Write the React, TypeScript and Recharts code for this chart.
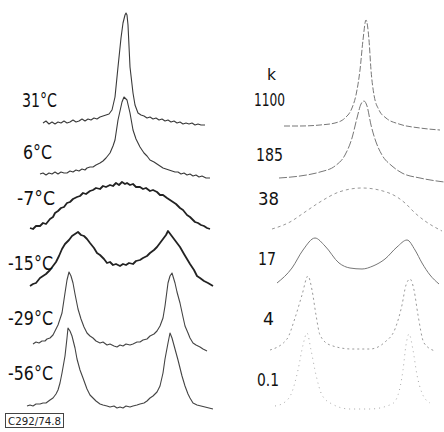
import React from 'react';
import { LineChart, Line, XAxis, YAxis } from 'recharts';

// ---- Data (field offset, signal intensity) ----
const tempLabels = ['31°C', '6°C', '-7°C', '-15°C', '-29°C', '-56°C'];
const kLabels = ['1100', '185', '38', '17', '4', '0.1'];
const kHeader = 'k';
const sampleCode = 'C292/74.8';

// vertical stacking offsets of each spectrum
const expOffsets = [309, 258, 203, 146, 88, 26];
const simOffsets = [306, 254, 203, 148, 82, 26];

// experimental spectra
const exp31: number[][] = [
  [-77, 0], [-74, 2], [-71, -1], [-68, 1], [-65, -1], [-62, 1], [-59, 0], [-56, 2], [-53, 0], [-50, 1],
  [-47, 3], [-44, 1], [-41, 2], [-38, 4], [-35, 2], [-32, 4], [-29, 3], [-26, 5], [-23, 4], [-20, 6],
  [-17, 7], [-14, 8], [-11, 9], [-8, 13], [-5, 26], [-2, 56], [1, 85], [3, 100], [5, 108], [6, 110],
  [7, 108], [8, 98], [10, 56], [13, 30], [15, 18], [18, 10], [21, 8], [24, 7], [27, 5], [30, 6],
  [33, 4], [36, 5], [39, 3], [42, 4], [45, 2], [48, 3], [51, 1], [54, 2], [57, 0], [60, 1],
  [63, -1], [66, 0], [69, -1], [72, 0], [75, -2], [78, -1], [81, -2], [85, -2],
];
const exp6: number[][] = [
  [-80, 0], [-77, 1], [-74, -1], [-71, 1], [-68, 0], [-65, 2], [-62, 0], [-59, 2], [-56, 1], [-53, 1],
  [-50, 3], [-47, 2], [-44, 4], [-41, 3], [-38, 5], [-35, 4], [-33, 6], [-30, 7], [-27, 7], [-24, 9],
  [-20, 11], [-17, 13], [-14, 16], [-10, 21], [-7, 28], [-5, 34], [-2, 54], [2, 72], [4, 77], [7, 74],
  [10, 61], [13, 44], [16, 35], [20, 27], [24, 21], [27, 18], [30, 14], [34, 12], [37, 10], [40, 8],
  [43, 6], [46, 5], [49, 4], [52, 3], [55, 2], [58, 2], [61, 0], [64, 1], [67, -1], [70, 0],
  [73, -2], [76, -1], [79, -3], [82, -2], [86, -4], [90, -4],
];
const exp7: number[][] = [
  [-90, 1], [-87, 0], [-84, 3], [-80, 3], [-77, 6], [-74, 5], [-70, 10], [-67, 12], [-65, 16], [-62, 18],
  [-59, 21], [-56, 22], [-53, 26], [-50, 27], [-47, 30], [-43, 32], [-40, 33], [-37, 36], [-34, 35], [-30, 38],
  [-27, 39], [-24, 41], [-20, 40], [-17, 43], [-14, 42], [-10, 44], [-7, 43], [-4, 46], [-1, 44], [2, 47],
  [5, 45], [7, 46], [10, 44], [13, 45], [16, 42], [20, 42], [23, 40], [26, 41], [30, 38], [33, 39],
  [37, 37], [40, 34], [43, 34], [47, 31], [50, 29], [53, 27], [56, 25], [60, 21], [63, 19], [67, 14],
  [70, 12], [73, 9], [75, 7], [78, 6], [81, 4], [84, 3], [87, 1], [90, 0],
];
const exp15: number[][] = [
  [-90, 0], [-87, 2], [-84, 3], [-80, 8], [-77, 10], [-74, 12], [-70, 16], [-67, 20], [-64, 24], [-61, 30],
  [-58, 37], [-55, 42], [-51, 46], [-48, 50], [-45, 52], [-42, 54], [-39, 51], [-36, 50], [-33, 47], [-30, 43],
  [-26, 38], [-23, 33], [-20, 31], [-16, 27], [-13, 23], [-10, 24], [-7, 21], [-4, 22], [0, 20], [3, 22],
  [6, 21], [9, 23], [13, 22], [16, 25], [20, 26], [23, 28], [27, 30], [30, 33], [34, 36], [37, 39],
  [40, 43], [43, 47], [46, 51], [48, 55], [51, 51], [54, 47], [57, 43], [60, 39], [64, 32], [67, 27],
  [70, 22], [74, 16], [77, 10], [80, 8], [84, 5], [88, 3], [93, 0],
];
const exp29: number[][] = [
  [-87, 0], [-84, 2], [-81, 1], [-78, 3], [-75, 3], [-73, 5], [-70, 6], [-67, 9], [-65, 13], [-62, 19],
  [-60, 25], [-58, 31], [-55, 51], [-53, 64], [-51, 72], [-49, 68], [-47, 61], [-45, 50], [-42, 35], [-39, 25],
  [-36, 17], [-33, 11], [-30, 8], [-27, 6], [-24, 3], [-20, 1], [-17, 2], [-13, -1], [-10, 0], [-6, -2],
  [-3, -3], [0, -1], [3, -2], [6, 0], [10, -1], [13, 0], [17, 2], [20, 2], [23, 4], [27, 5],
  [30, 8], [34, 10], [37, 13], [40, 18], [43, 26], [45, 38], [48, 61], [50, 68], [52, 71], [55, 61],
  [57, 52], [60, 41], [63, 27], [65, 18], [68, 11], [70, 6], [73, 1], [76, -1], [80, -3], [83, -5], [87, -7],
];
const exp56: number[][] = [
  [-93, 0], [-90, 1], [-87, 0], [-84, 2], [-80, 2], [-77, 3], [-74, 3], [-70, 6], [-67, 8], [-64, 12],
  [-62, 16], [-60, 23], [-58, 33], [-55, 50], [-53, 68], [-52, 78], [-50, 75], [-48, 70], [-45, 58], [-43, 47],
  [-40, 36], [-37, 28], [-33, 17], [-30, 11], [-27, 8], [-24, 5], [-20, 2], [-17, 1], [-13, 0], [-10, -1],
  [-6, 0], [-3, -2], [0, -1], [3, -2], [6, 0], [10, -1], [13, 0], [17, 1], [20, 2], [24, 3],
  [27, 5], [30, 8], [33, 10], [37, 14], [40, 20], [43, 33], [45, 47], [48, 63], [50, 73], [52, 68],
  [55, 57], [58, 46], [62, 30], [65, 20], [68, 12], [70, 8], [73, 3], [77, 1], [81, 0], [85, -1],
  [89, -2], [93, -3],
];

// simulated spectra
const sim1100: number[][] = [
  [-75, 0], [-59, 0], [-39, 1], [-24, 3], [-14, 8], [-7, 18], [-3, 31], [1, 56], [4, 86], [7, 106],
  [10, 86], [12, 56], [15, 31], [20, 16], [27, 8], [40, 2], [61, -2], [81, -4],
];
const sim185: number[][] = [
  [-80, 0], [-59, 2], [-39, 6], [-24, 12], [-14, 23], [-7, 40], [-2, 60], [2, 74], [5, 77], [8, 72],
  [12, 53], [17, 36], [23, 23], [33, 12], [43, 5], [61, 0], [85, -4],
];
const sim38: number[][] = [
  [-87, 0], [-69, 7], [-54, 17], [-39, 27], [-20, 37], [3, 41], [30, 36], [46, 26], [56, 16], [66, 8], [83, -2],
];
const sim17: number[][] = [
  [-82, 1], [-67, 16], [-56, 34], [-44, 46], [-34, 38], [-20, 21], [-9, 16], [3, 15], [14, 18], [26, 25],
  [38, 37], [48, 44], [56, 34], [63, 21], [71, 9], [80, 0],
];
const sim4: number[][] = [
  [-89, 0], [-72, 11], [-64, 32], [-57, 55], [-51, 74], [-47, 60], [-43, 35], [-39, 15], [-29, 5], [-7, 1],
  [11, 1], [26, 8], [36, 21], [43, 45], [47, 65], [51, 71], [55, 60], [59, 35], [65, 7], [76, -1],
];
const sim01: number[][] = [
  [-84, 0], [-74, 4], [-67, 14], [-61, 36], [-56, 61], [-52, 73], [-48, 56], [-43, 31], [-37, 11], [-27, 2],
  [-9, -3], [11, -3], [33, 2], [39, 11], [44, 36], [47, 61], [50, 72], [54, 56], [58, 31], [63, 13], [71, 3],
];

const expSpectra = [exp31, exp6, exp7, exp15, exp29, exp56];
const simSpectra = [sim1100, sim185, sim38, sim17, sim4, sim01];

// ---- Styling / layout ----
const W = 444;
const H = 432;
const PANEL_W = 222;

const toSeries = (pts: number[][], offset: number) =>
  pts.map(([f, i]) => ({ f, v: offset + i }));

const expStyles = [
  { stroke: '#3a3a3a', width: 1.1, dash: undefined },
  { stroke: '#3a3a3a', width: 1.1, dash: undefined },
  { stroke: '#222', width: 1.8, dash: undefined },
  { stroke: '#222', width: 1.8, dash: undefined },
  { stroke: '#444', width: 1.1, dash: undefined },
  { stroke: '#444', width: 1.1, dash: undefined },
];
const simStyles = [
  { stroke: '#777', width: 1, dash: '6 2' },
  { stroke: '#777', width: 1, dash: '8 2' },
  { stroke: '#999', width: 1, dash: '3 3' },
  { stroke: '#777', width: 1, dash: undefined },
  { stroke: '#999', width: 1, dash: '2 3' },
  { stroke: '#aaa', width: 1, dash: '1 4' },
];

const tempPos = [
  { x: 22, y: 107, w: 35 },
  { x: 23, y: 159, w: 29 },
  { x: 17, y: 205, w: 38 },
  { x: 8, y: 270, w: 45 },
  { x: 8, y: 325, w: 45 },
  { x: 8, y: 380, w: 45 },
];
const kPos = [
  { x: 254, y: 106, w: 31 },
  { x: 256, y: 161, w: 27 },
  { x: 258, y: 205, w: 21 },
  { x: 258, y: 265, w: 18 },
  { x: 263, y: 325, w: 11 },
  { x: 257, y: 386, w: 22 },
];

const FONT = '"DejaVu Sans", "Liberation Sans", sans-serif';

function Panel({
  spectra,
  offsets,
  styles,
  domain,
  left,
  curve,
}: {
  spectra: number[][][];
  offsets: number[];
  styles: { stroke: string; width: number; dash?: string }[];
  domain: [number, number];
  left: number;
  curve: 'linear' | 'monotone';
}) {
  return (
    <div style={{ position: 'absolute', left, top: 0 }}>
      <LineChart width={PANEL_W} height={H} margin={{ top: 0, right: 0, bottom: 0, left: 0 }}>
        <XAxis type="number" dataKey="f" domain={domain} hide allowDataOverflow />
        <YAxis type="number" domain={[0, H]} hide allowDataOverflow />
        {spectra.map((pts, idx) => (
          <Line
            key={idx}
            data={toSeries(pts, offsets[idx])}
            dataKey="v"
            type={curve}
            stroke={styles[idx].stroke}
            strokeWidth={styles[idx].width}
            strokeDasharray={styles[idx].dash}
            strokeLinejoin="round"
            dot={false}
            activeDot={false}
            isAnimationActive={false}
          />
        ))}
      </LineChart>
    </div>
  );
}

export default function App() {
  return (
    <div
      style={{
        position: 'absolute',
        left: 0,
        top: 0,
        width: W,
        height: H,
        background: '#fff',
        overflow: 'hidden',
      }}
    >
      <Panel
        spectra={expSpectra}
        offsets={expOffsets}
        styles={expStyles}
        domain={[-120, 102]}
        left={0}
        curve="linear"
      />
      <Panel
        spectra={simSpectra}
        offsets={simOffsets}
        styles={simStyles}
        domain={[-137, 85]}
        left={PANEL_W}
        curve="monotone"
      />
      <svg
        width={W}
        height={H}
        style={{ position: 'absolute', left: 0, top: 0, pointerEvents: 'none' }}
      >
        {tempLabels.map((t, i) => (
          <text
            key={t}
            x={tempPos[i].x}
            y={tempPos[i].y}
            fontSize={19}
            fontFamily={FONT}
            fill="#111"
            textLength={tempPos[i].w}
            lengthAdjust="spacingAndGlyphs"
          >
            {t}
          </text>
        ))}
        <text
          x={267}
          y={80}
          fontSize={16}
          fontFamily={FONT}
          fill="#111"
          textLength={9}
          lengthAdjust="spacingAndGlyphs"
        >
          {kHeader}
        </text>
        {kLabels.map((t, i) => (
          <text
            key={t}
            x={kPos[i].x}
            y={kPos[i].y}
            fontSize={18}
            fontFamily={FONT}
            fill="#111"
            textLength={kPos[i].w}
            lengthAdjust="spacingAndGlyphs"
          >
            {t}
          </text>
        ))}
        <rect x={5.5} y={413.5} width={58} height={14} fill="none" stroke="#444" strokeWidth={1} />
        <text
          x={8}
          y={425}
          fontSize={11}
          fontFamily={FONT}
          fill="#222"
          textLength={53}
          lengthAdjust="spacingAndGlyphs"
        >
          {sampleCode}
        </text>
      </svg>
    </div>
  );
}
